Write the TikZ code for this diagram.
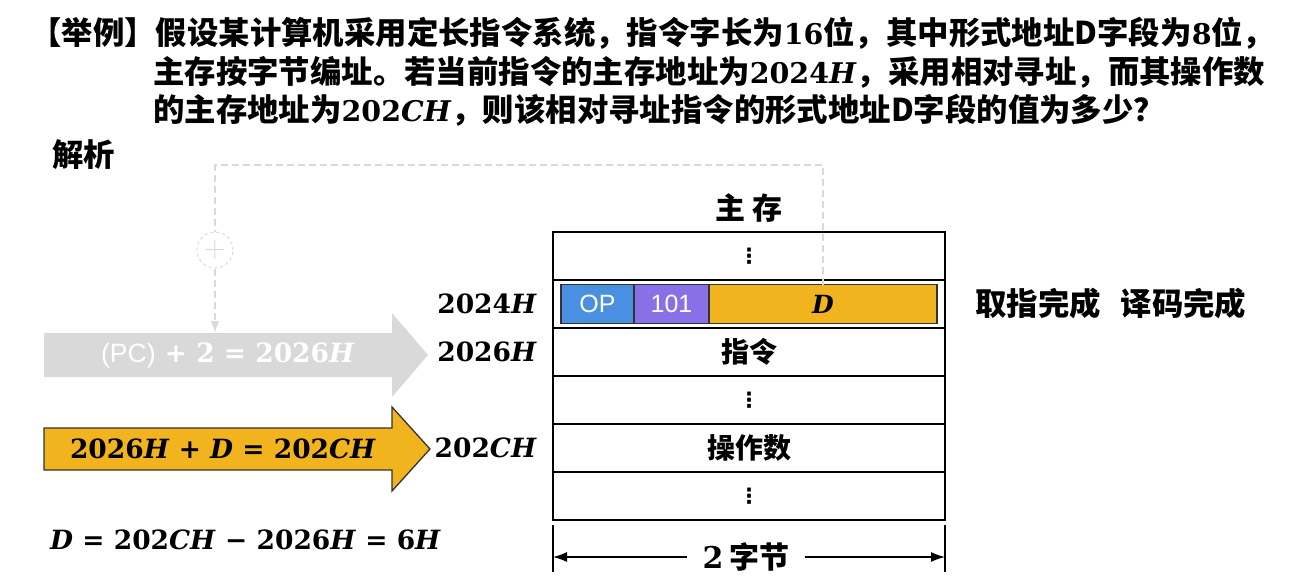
\documentclass[tikz,border=0pt]{standalone}
\usepackage{fontspec}
\usetikzlibrary{positioning,arrows.meta}
\setsansfont{Liberation Sans}
\newfontfamily\cjk{Noto Sans CJK SC}
\newfontfamily\numf{DejaVu Serif}
\newfontfamily\symf{DejaVu Sans}
\newcommand{\hx}[2]{{\numf\bfseries #1\textit{#2}}}
\newcommand{\tn}[1]{{\numf\bfseries\fontsize{28.5}{30}\selectfont #1}}
\definecolor{opblue}{RGB}{74,144,226}
\definecolor{modepurple}{RGB}{138,112,232}
\definecolor{dgold}{RGB}{242,180,30}
\definecolor{fadegray}{RGB}{217,217,217}

\begin{document}
\begin{tikzpicture}[x=1pt,y=-1pt,
        cell/.style={draw,line width=1.3pt,outer sep=0pt,inner sep=0pt,minimum width=392pt,minimum height=48pt,font=\cjk\bfseries\fontsize{28}{30}\selectfont},
        dots/.style={cell,font=\symf\bfseries\fontsize{21}{22}\selectfont},
        field/.style={draw=black!80,line width=1.3pt,outer sep=0pt,inner sep=0pt,minimum height=39pt,font=\sffamily\fontsize{25}{26}\selectfont,text=white},
        addr/.style={inner sep=0pt,font=\numf\bfseries\fontsize{26.5}{28}\selectfont},
        head/.style={anchor=west,inner sep=0pt,font=\cjk\bfseries\fontsize{31.4}{33}\selectfont},
        dashlink/.style={draw=fadegray,line width=2pt,dash pattern=on 7pt off 4pt},
        widtharrow/.style={line width=1.3pt,-{Latex[length=14pt,width=10pt]}}]
    % \draw[help lines] grid(1293,576);
    \useasboundingbox (0,0) rectangle (1293,576);

    \node[head] (q1) at (30,33) {【举例】假设某计算机采用定长指令系统，指令字长为\tn{16}位，其中形式地址D字段为\tn{8}位，};
    \node[head] (q2) at (153,72) {主存按字节编址。若当前指令的主存地址为\tn{2024\textit{H}}，采用相对寻址，而其操作数};
    \node[head] (q3) at (153,110) {的主存地址为\tn{202\textit{CH}}，则该相对寻址指令的形式地址D字段的值为多少？};
    \node[head] (sol) at (52,155) {解析};

    % main memory, one row per 2 bytes
    \node[dots] (m1) at (749,256) {⋮};
    \node[cell,below=0pt of m1] (m2) {};
    \node[cell,below=0pt of m2] (m3) {指令};
    \node[dots,below=0pt of m3] (m4) {⋮};
    \node[cell,below=0pt of m4] (m5) {操作数};
    \node[dots,below=0pt of m5] (m6) {⋮};
    \node[font=\cjk\bfseries\fontsize{30}{32}\selectfont,above=6pt of m1] (mem) {主\hspace{8pt}存};

    \node[field,fill=opblue,minimum width=73pt,anchor=west] (op) at ([xshift=8pt]m2.west) {OP};
    \node[field,fill=modepurple,minimum width=75pt,right=0pt of op] (mode) {101};
    \node[field,fill=dgold,minimum width=228pt,right=0pt of mode,text=black] (dfield) {\numf\bfseries\itshape D};

    \node[addr,left=16pt of m2] (a1) {2024\textit{H}};
    \node[addr,left=16pt of m3] (a2) {2026\textit{H}};
    \node[addr,left=16pt of m5] (a3) {202\textit{CH}};

    \node[head] (done) at (975,304) {取指完成\hspace{20pt}译码完成};

    % address arithmetic
    \draw[fill=fadegray,draw=none] (44,333) -- (392,333) -- (392,313) -- (428,355) -- (392,397) -- (392,377) -- (44,377) -- cycle;
    \node[addr,text=white] (pcsum) at (228,355) {{\sffamily\mdseries (PC)} + 2 = 2026\textit{H}};
    \draw[fill=dgold,draw=black!80,line width=1.3pt] (44,428) -- (392,428) -- (392,407) -- (430,449) -- (392,491) -- (392,470) -- (44,470) -- cycle;
    \node[addr] (dsum) at (223,449) {2026\textit{H} + \textit{D} = 202\textit{CH}};

    \coordinate (pcin) at (215,333);
    \node[circle,draw=fadegray,line width=1pt,dashed,minimum size=36pt,inner sep=0pt,text=fadegray,font=\fontsize{30}{30}\selectfont] (add) at (215,250) {+};
    \draw[dashlink] (dfield.north) -- (dfield.north |- 0,165) -| (add.north);
    \draw[dashlink,-{Latex[length=12pt,width=9pt]}] (add.south) -- (pcin);

    \node[addr,anchor=west] (result) at (50,540) {\textit{D} = 202\textit{CH} − 2026\textit{H} = 6\textit{H}};

    % width of one cell
    \draw[line width=1.3pt] (m6.south west) ++(0,5) -- ++(0,47);
    \draw[line width=1.3pt] (m6.south east) ++(0,5) -- ++(0,47);
    \node[font=\cjk\bfseries\fontsize{30}{32}\selectfont,inner xsep=15pt] (bytes) at (746,557) {{\numf\bfseries 2}\hspace{6pt}字节};
    \draw[widtharrow] (bytes.west) -- (bytes.west -| m6.west);
    \draw[widtharrow] (bytes.east) -- (bytes.east -| m6.east);
\end{tikzpicture}
\end{document}
